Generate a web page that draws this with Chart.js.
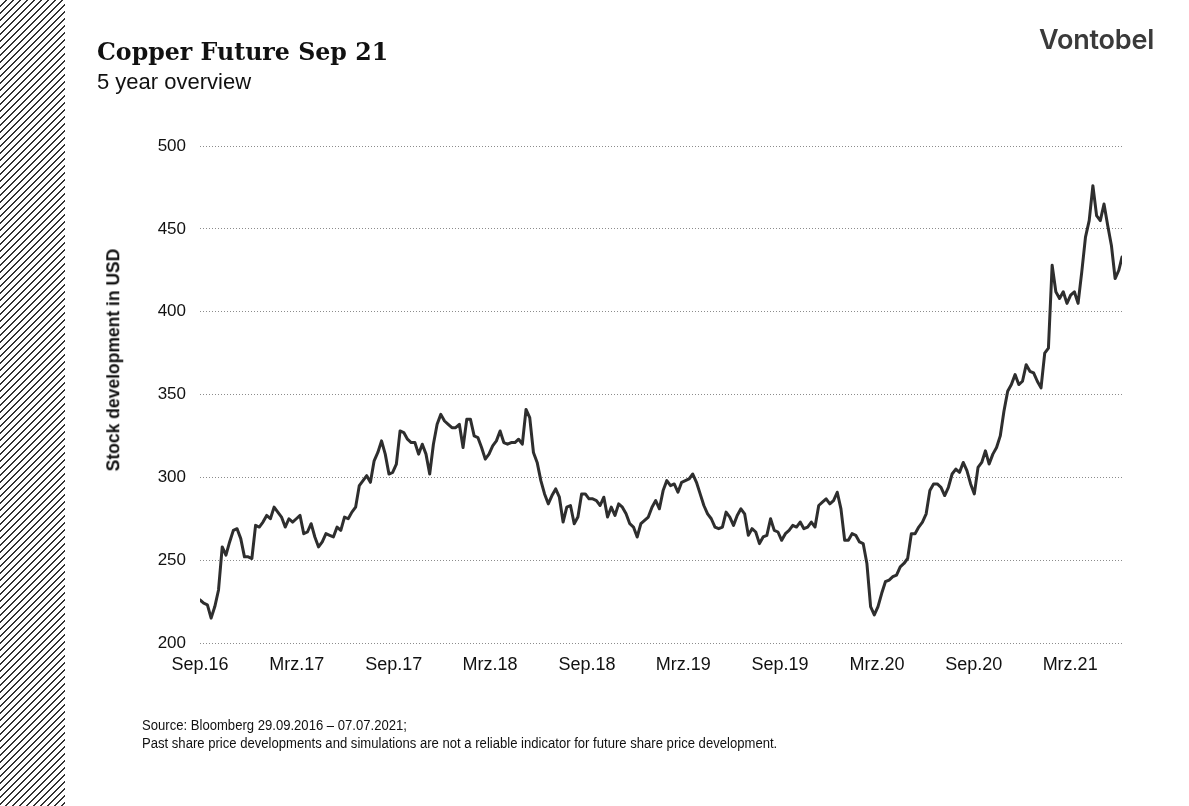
<!DOCTYPE html>
<html>
<head>
<meta charset="utf-8">
<script src="https://cdn.jsdelivr.net/npm/chart.js@4.4.1/dist/chart.umd.min.js"></script>
<style>
html,body{margin:0;padding:0;background:#fff;}
body{width:1189px;height:806px;position:relative;overflow:hidden;font-family:"Liberation Sans",Arial,sans-serif;color:#111;}
#hatch{position:absolute;left:0;top:0;width:65px;height:806px;
  background:repeating-linear-gradient(135deg,#fff 0,#fff 3.95px,#333 3.95px,#333 4.95px);}
#wrap{position:absolute;left:0;top:0;width:1189px;height:806px;}
.t{position:absolute;white-space:nowrap;line-height:1;}
#title{left:97px;top:41px;font-family:"DejaVu Serif","Liberation Serif",serif;font-weight:bold;font-size:23.7px;color:#111;}
#subtitle{left:97px;top:71px;font-size:22px;color:#111;}
#logo{left:1039px;top:26px;font-family:Inter,Lato,"Liberation Sans",sans-serif;font-weight:600;font-size:27px;color:#3a3a3a;letter-spacing:-0.2px;}
#ytitle{left:114px;top:360px;font-weight:bold;font-size:17.5px;color:#111;transform:translate(-50%,-50%) rotate(-90deg);}
#foot{left:142px;top:716px;font-size:14px;line-height:18px;color:#111;transform:scaleX(0.935);transform-origin:0 0;}
</style>
</head>
<body>
<div id="hatch"></div>
<div id="wrap"><canvas id="c" width="1189" height="806"></canvas></div>
<div class="t" id="title">Copper Future Sep 21</div>
<div class="t" id="subtitle">5 year overview</div>
<div class="t" id="logo">Vontobel</div>
<div class="t" id="ytitle">Stock development in USD</div>
<div class="t" id="foot">Source: Bloomberg 29.09.2016 – 07.07.2021;<br>Past share price developments and simulations are not a reliable indicator for future share price development.</div>
<script>
// Weekly closing prices (USD), first week = 29.09.2016
const weeklyPrices = [
  226,224,223,215,222,232,258,253,261,268,
  269,263,252,252,251,271,270,273,277,275,
  282,279,276,270,275,273,275,277,266,267,
  272,264,258,261,266,265,264,270,268,276,
  275,279,282,295,298,301,297,310,315,322,
  314,302,303,308,328,327,323,321,321,314,
  320,314,302,320,332,338,334,332,330,330,
  332,318,335,335,325,324,318,311,314,319,
  322,328,321,320,321,321,323,320,341,336,
  315,309,298,290,284,289,293,288,273,282,
  283,272,276,290,290,287,287,286,283,288,
  276,282,277,284,282,278,272,270,264,272,
  274,276,282,286,281,292,298,295,296,291,
  297,298,299,302,297,290,283,278,275,270,
  269,270,279,276,271,277,281,278,265,269,
  267,260,264,265,275,268,267,262,266,268,
  271,270,273,269,270,273,270,283,285,287,
  284,286,291,281,262,262,266,265,261,260,
  248,222,217,222,230,237,238,240,241,246,
  248,251,266,266,270,273,278,292,296,296,
  294,289,294,302,305,303,309,304,296,290,
  306,309,316,308,314,318,325,340,352,356,
  362,356,358,368,364,363,358,354,375,378,
  428,412,408,412,405,410,412,405,424,445,
  455,476,458,455,465,452,440,420,425,433
];
// Tick positions in days after 29.09.2016 (month ends) and their labels
const tickDays = [0,183,366,548,731,913,1096,1279,1462,1644];
const tickLabels = ['Sep.16','Mrz.17','Sep.17','Mrz.18','Sep.18','Mrz.19','Sep.19','Mrz.20','Sep.20','Mrz.21'];
const yTicks = [200,250,300,350,400,450,500];
const lastDay = 1742;

const points = weeklyPrices.map((v,i)=>({x: Math.min(i*7,lastDay), y: v}));

new Chart(document.getElementById('c'), {
  type: 'line',
  data: { datasets: [{
    data: points,
    borderColor: '#2e2e2e',
    borderWidth: 3,
    pointRadius: 0,
    tension: 0,
    borderJoinStyle: 'round',
    borderCapStyle: 'round'
  }]},
  options: {
    responsive: false,
    animation: false,
    events: [],
    layout: { padding: { left: 140, right: 67, top: 146, bottom: 123 } },
    plugins: { legend: { display: false }, tooltip: { enabled: false }, title: { display: false } },
    scales: {
      x: {
        type: 'linear',
        min: 0, max: lastDay,
        afterBuildTicks: (s) => { s.ticks = tickDays.map(d => ({ value: d })); },
        afterFit: (s) => { s.height = 40; },
        grid: { display: false, drawTicks: false },
        border: { display: false },
        ticks: {
          autoSkip: false, maxRotation: 0, minRotation: 0, padding: 11,
          color: '#111',
          font: { family: '"Liberation Sans",Arial,sans-serif', size: 18 },
          callback: (v) => { const i = tickDays.indexOf(v); return i >= 0 ? tickLabels[i] : ''; }
        }
      },
      y: {
        min: 200, max: 500,
        afterBuildTicks: (s) => { s.ticks = yTicks.map(v => ({ value: v })); },
        afterFit: (s) => { s.width = 60; },
        grid: { color: '#8c8c8c', lineWidth: 1, drawTicks: false },
        border: { display: false, dash: [1, 2] },
        ticks: {
          padding: 14, color: '#111',
          font: { family: '"Liberation Sans",Arial,sans-serif', size: 17 }
        }
      }
    }
  }
});
</script>
</body>
</html>
